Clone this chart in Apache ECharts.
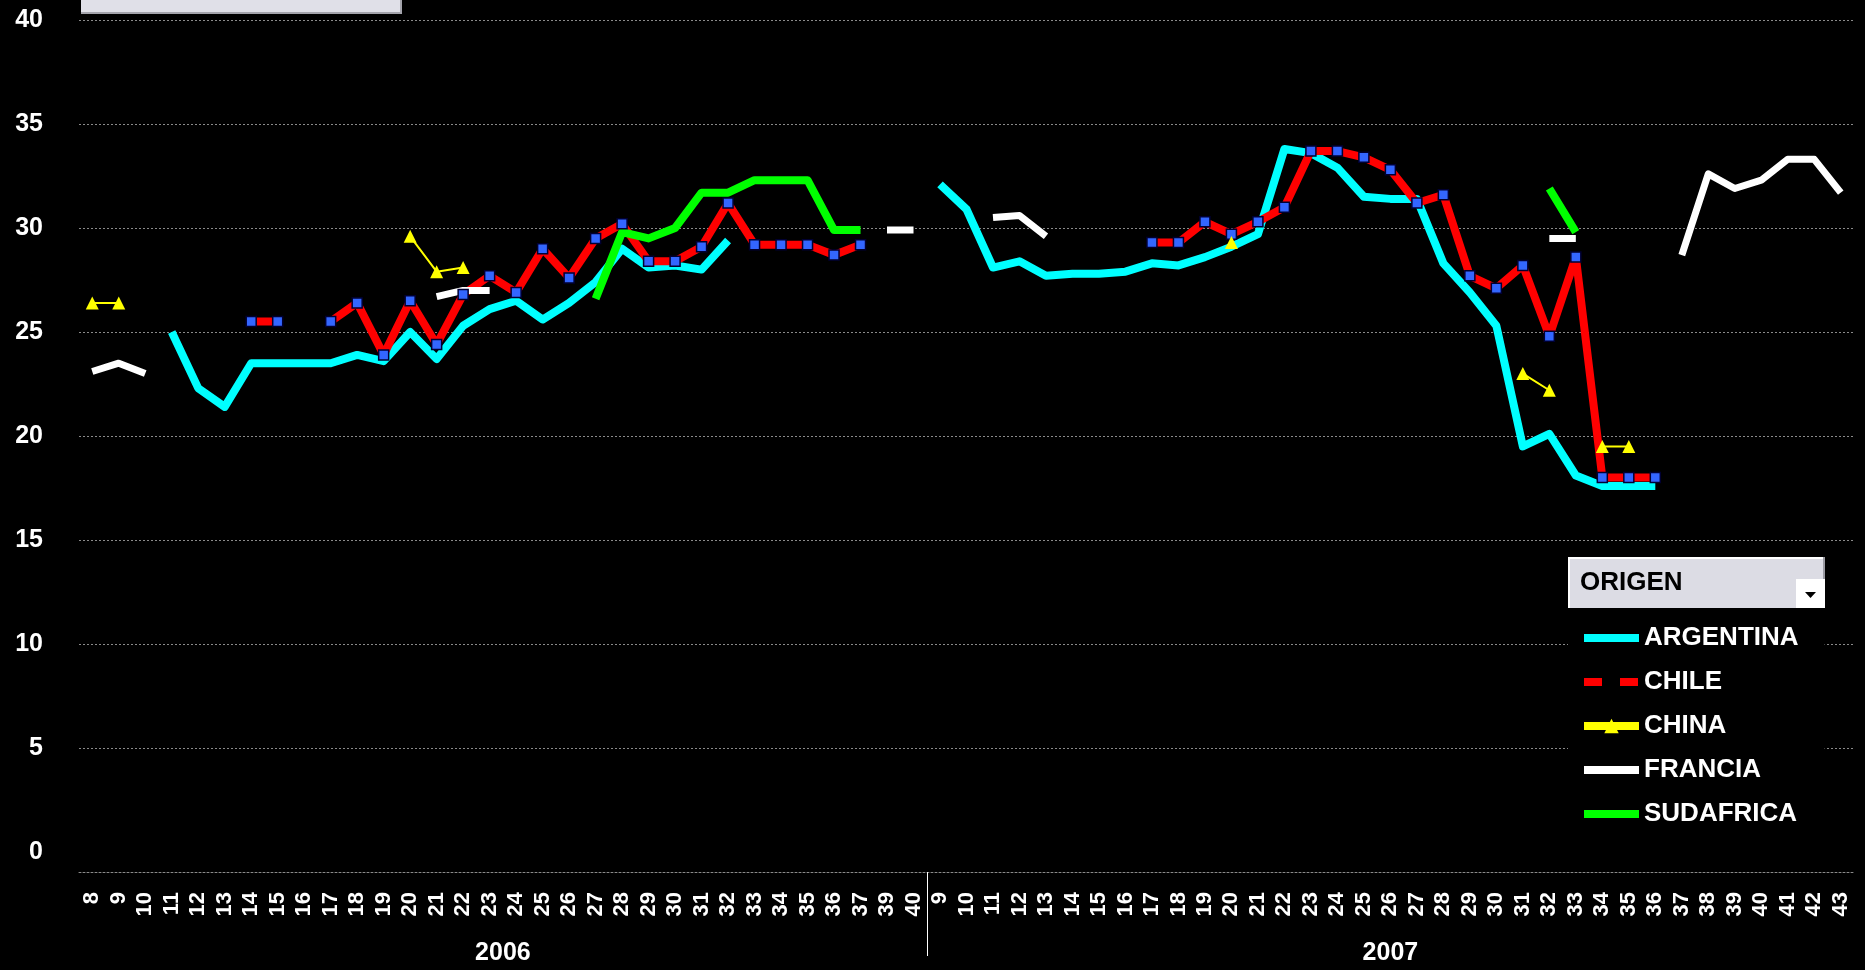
<!DOCTYPE html>
<html>
<head>
<meta charset="utf-8">
<style>
html,body{margin:0;padding:0;background:#000;}
#chart{width:1865px;height:970px;}
</style>
<script src="https://cdn.jsdelivr.net/npm/echarts@6/dist/echarts.min.js"></script>
</head>
<body>
<div id="chart"></div>
<script>
// ---- data ----
const weeks2006 = ['8','9','10','11','12','13','14','15','16','17','18','19','20','21','22','23','24','25','26','27','28','29','30','31','32','33','34','35','36','37','39','40'];
const weeks2007 = ['9','10','11','12','13','14','15','16','17','18','19','20','21','22','23','24','25','26','27','28','29','30','31','32','33','34','35','36','37','38','39','40','41','42','43'];
const years = ['2006','2007'];
const seriesNames = ['ARGENTINA','CHILE','CHINA','FRANCIA','SUDAFRICA'];
const N = null;
const argentina = [N,N,N,25.0,22.3,21.4,23.5,23.5,23.5,23.5,23.9,23.6,25.0,23.7,25.3,26.1,26.5,25.6,26.4,27.4,29.0,28.1,28.2,28.0,29.4,N,N,N,N,N,N,N,
  32.1,30.9,28.1,28.4,27.7,27.8,27.8,27.9,28.3,28.2,28.6,29.1,29.7,33.8,33.6,32.9,31.5,31.4,31.4,28.3,26.9,25.3,19.5,20.1,18.1,17.6,17.6,17.6,N,N,N,N,N,N,N];
const chile = [N,N,N,N,N,N,25.5,25.5,N,25.5,26.4,23.9,26.5,24.4,26.8,27.7,26.9,29.0,27.6,29.5,30.2,28.4,28.4,29.1,31.2,29.2,29.2,29.2,28.7,29.2,N,N,
  N,N,N,N,N,N,N,N,29.3,29.3,30.3,29.7,30.3,31.0,33.7,33.7,33.4,32.8,31.2,31.6,27.7,27.1,28.2,24.8,28.6,18.0,18.0,18.0,N,N,N,N,N,N,N];
const china = [26.4,26.4,N,N,N,N,N,N,N,N,N,N,29.6,27.9,28.1,N,N,N,N,N,N,N,N,N,N,N,N,N,N,N,N,N,
  N,N,N,N,N,N,N,N,N,N,N,29.3,N,N,N,N,N,N,N,N,N,N,23.0,22.2,N,19.5,19.5,N,N,N,N,N,N,N,N];
const francia = [23.1,23.5,23.0,N,N,N,N,N,N,N,N,N,N,26.7,27.0,27.0,N,N,N,N,N,N,N,N,N,N,N,N,N,N,29.9,29.9,
  N,N,30.5,30.6,29.6,N,N,N,N,N,N,N,N,N,N,N,N,N,N,N,N,N,N,29.5,29.5,N,N,N,28.7,32.6,31.9,32.3,33.3,33.3,31.7];
const sudafrica = [N,N,N,N,N,N,N,N,N,N,N,N,N,N,N,N,N,N,N,26.6,29.8,29.5,30.0,31.7,31.7,32.3,32.3,32.3,29.9,29.9,N,N,
  N,N,N,N,N,N,N,N,N,N,N,N,N,N,N,N,N,N,N,N,N,N,N,31.9,29.8,N,N,N,N,N,N,N,N,N,N];
const yTicks = [0,5,10,15,20,25,30,35,40];

// ---- chart ----
const categories = weeks2006.concat(weeks2007);
const yearCenter2006 = weeks2006.length / 2;
const yearCenter2007 = weeks2006.length + weeks2007.length / 2;
const yearBoundary = weeks2006.length;
const font = '"Liberation Sans", Arial, sans-serif';
const gridLine = {color: '#8a8a8a', width: 1, type: [2, 2]};

function lineSeries(name, data, color, width, extra) {
  return Object.assign({
    name: name, type: 'line', data: data, xAxisIndex: 0, yAxisIndex: 0,
    connectNulls: false, symbol: 'none', showAllSymbol: true,
    lineStyle: {color: color, width: width, join: 'round', cap: 'butt'},
    itemStyle: {color: color},
    emphasis: {disabled: true}
  }, extra || {});
}

const chart = echarts.init(document.getElementById('chart'), null, {renderer: 'canvas'});
chart.setOption({
  backgroundColor: '#000',
  animation: false,
  textStyle: {fontFamily: font},
  grid: {left: 79, right: 11, top: 20, bottom: 118, containLabel: false},
  xAxis: [{
    type: 'category', data: categories, boundaryGap: true, position: 'bottom', offset: 20,
    axisLine: {show: true, onZero: false, lineStyle: gridLine},
    axisTick: {show: false},
    axisLabel: {interval: 0, rotate: 90, color: '#fff', fontSize: 22, fontWeight: 'bold', fontFamily: font, margin: 20, padding: [0, 0, 10, 0]},
    splitLine: {show: false}
  }, {
    type: 'value', min: 0, max: categories.length, position: 'bottom', offset: 20,
    axisLine: {show: false, onZero: false}, splitLine: {show: false},
    axisTick: {show: true, customValues: [yearBoundary], length: 84, lineStyle: {color: '#fff', width: 1}},
    axisLabel: {
      customValues: [yearCenter2006, yearCenter2007],
      color: '#fff', fontSize: 25, fontWeight: 'bold', fontFamily: font, margin: 69,
      formatter: function (v) {
        if (v === yearCenter2006) return years[0];
        if (v === yearCenter2007) return years[1];
        return '';
      }
    }
  }],
  yAxis: {
    type: 'value', min: yTicks[0], max: yTicks[yTicks.length - 1], interval: yTicks[1] - yTicks[0],
    axisLine: {show: false}, axisTick: {show: false},
    axisLabel: {color: '#fff', fontSize: 25, fontWeight: 'bold', fontFamily: font, margin: 36},
    splitLine: {show: true, showMinLine: false, lineStyle: gridLine}
  },
  legend: {
    orient: 'vertical', left: 1568, top: 608, padding: [17, 26, 14, 12],
    backgroundColor: '#000', itemWidth: 55, itemHeight: 18, itemGap: 18, selectedMode: false, z: 20,
    textStyle: {color: '#fff', fontSize: 26, fontWeight: 'bold', fontFamily: font, lineHeight: 26},
    data: [
      {name: seriesNames[0], lineStyle: {width: 8}, itemStyle: {opacity: 0}},
      {name: seriesNames[1], lineStyle: {width: 8, type: [18, 18]}, itemStyle: {opacity: 0}},
      {name: seriesNames[2], lineStyle: {width: 8}},
      {name: seriesNames[3], lineStyle: {width: 8}, itemStyle: {opacity: 0}},
      {name: seriesNames[4], lineStyle: {width: 8}, itemStyle: {opacity: 0}}
    ]
  },
  series: [
    lineSeries(seriesNames[0], argentina, '#00FFFF', 8),
    lineSeries(seriesNames[1], chile, '#FF0000', 8, {
      symbol: 'rect', symbolSize: 10,
      itemStyle: {color: '#3366FF', borderColor: '#000033', borderWidth: 1.5}
    }),
    lineSeries(seriesNames[2], china, '#FFFF00', 2, {symbol: 'triangle', symbolSize: 13}),
    lineSeries(seriesNames[3], francia, '#FFFFFF', 7),
    lineSeries(seriesNames[4], sudafrica, '#00FF00', 8)
  ],
  graphic: [
    {type: 'rect', left: 81, top: -20, z: 30, shape: {width: 321, height: 33}, style: {fill: '#e0e0e8'}},
    {type: 'rect', left: 81, top: 12, z: 31, shape: {width: 321, height: 2}, style: {fill: '#a4a4ac'}},
    {type: 'rect', left: 400, top: -20, z: 31, shape: {width: 2, height: 34}, style: {fill: '#a4a4ac'}},
    {type: 'group', left: 1568, top: 557, z: 30, children: [
      {type: 'rect', shape: {x: 0, y: 0, width: 257, height: 51}, style: {fill: '#dcdce4'}},
      {type: 'rect', shape: {x: 0, y: 0, width: 257, height: 2}, style: {fill: '#ffffff'}},
      {type: 'rect', shape: {x: 0, y: 0, width: 2, height: 51}, style: {fill: '#ffffff'}},
      {type: 'rect', shape: {x: 255, y: 0, width: 2, height: 51}, style: {fill: '#9a9aa2'}},
      {type: 'rect', shape: {x: 228, y: 22, width: 29, height: 29}, style: {fill: '#ffffff'}},
      {type: 'polygon', shape: {points: [[237, 35], [248, 35], [242.5, 41]]}, style: {fill: '#000'}},
      {type: 'text', x: 12, y: 26, style: {text: 'ORIGEN', fill: '#000', font: 'bold 26px ' + font, verticalAlign: 'middle'}}
    ]}
  ]
});
</script>
</body>
</html>
